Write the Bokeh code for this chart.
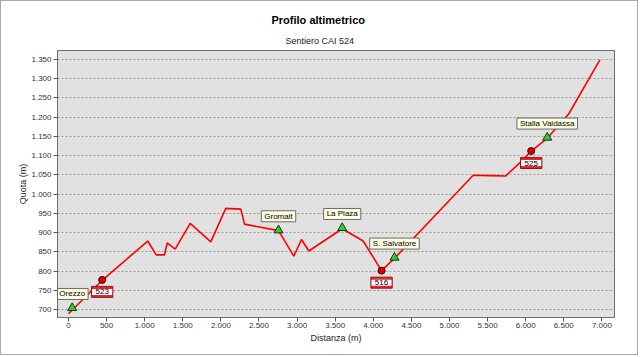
from bokeh.plotting import figure
from bokeh.models import Range1d, FixedTicker, CustomJSTickFormatter, Title
from bokeh.core.properties import value
from bokeh.embed import file_html
from bokeh.resources import INLINE

# ---- data ----
distance = [0, 442, 1040, 1151, 1260, 1295, 1400, 1597, 1867, 2064, 2261, 2310,
            2756, 2957, 3058, 3154, 3592, 3867, 4108, 4278, 5311, 5529, 5735,
            5932, 6072, 6282, 6566, 6973]
elevation = [689, 776, 878, 842, 842, 873, 857, 924, 876, 963, 961, 922,
             905, 839, 882, 852, 910, 878, 801, 833, 1049, 1048, 1047,
             1083, 1112, 1145, 1209, 1349]

place_names = ["Orezzo", "Gromalt", "La Plaza", "S. Salvatore", "Stalla Valdassa"]
place_dist = [49, 2756, 3592, 4278, 6282]
place_elev = [704, 906, 912, 835, 1147]

trail_names = ["523", "516", "525"]
trail_dist = [442, 4108, 6072]
trail_elev = [777, 801, 1112]

x_ticks = list(range(0, 7001, 500))
y_ticks = list(range(700, 1351, 50))

title_text = "Profilo altimetrico"
subtitle_text = "Sentiero CAI 524"
x_label = "Distanza (m)"
y_label = "Quota (m)"

FONT = "Liberation Sans"

p = figure(width=638, height=355, output_backend="svg", toolbar_location=None,
           x_range=Range1d(-144, 7165), y_range=Range1d(679.2, 1373.4),
           min_border_left=56, min_border_right=25, min_border_top=49,
           min_border_bottom=39)
p.styles = {"border": "1px solid #a9a9a9"}
p.background_fill_color = "#e1e1e1"
p.border_fill_color = "white"
p.outline_line_color = "#6f6f6f"
p.outline_line_width = 1

# titles: main title outermost, subtitle nearest the frame
p.title.text = title_text
p.title.align = "left"
p.title.offset = 214
p.title.standoff = 5
p.title.text_font = FONT
p.title.text_font_size = "11px"
p.title.text_font_style = "bold"
p.title.text_color = "#000000"
p.add_layout(Title(text=subtitle_text, align="left", offset=228, standoff=10,
                   text_font=FONT, text_font_size="9px",
                   text_font_style="normal", text_color="#222222"), "above")

p.xgrid.visible = False
p.ygrid.grid_line_color = "#9a9a9a"
p.ygrid.grid_line_dash = "2 2"
p.ygrid.grid_line_width = 1

p.xaxis.ticker = FixedTicker(ticks=x_ticks)
p.yaxis.ticker = FixedTicker(ticks=y_ticks)
code = "return tick.toFixed(0).replace(/\\B(?=(\\d{3})+(?!\\d))/g, '.');"
p.xaxis.formatter = CustomJSTickFormatter(code=code)
p.yaxis.formatter = CustomJSTickFormatter(code=code)
for ax in (p.xaxis, p.yaxis):
    ax.minor_tick_line_color = None
    ax.major_tick_in = 0
    ax.major_tick_out = 4
    ax.axis_line_color = "#6f6f6f"
    ax.major_tick_line_color = "#555555"
    ax.major_label_text_font = FONT
    ax.major_label_text_font_size = "8px"
    ax.major_label_text_color = "#333333"
    ax.axis_label_text_font = FONT
    ax.axis_label_text_font_size = "9px"
    ax.axis_label_text_font_style = "normal"
    ax.axis_label_text_color = "#222222"
p.xaxis.axis_label = x_label
p.yaxis.axis_label = y_label
p.xaxis.major_label_standoff = 1
p.yaxis.major_label_standoff = 2
p.xaxis.axis_label_standoff = 2
p.yaxis.axis_label_standoff = 0

# profile line
p.line(distance, elevation, line_color="#ff0000", line_width=1.6)

# trail junction markers
p.scatter(trail_dist, trail_elev, marker="circle", size=7,
          fill_color="#e00000", line_color="#3a0000", line_width=1)
# place markers
p.scatter(place_dist, place_elev, marker="triangle", size=9,
          fill_color="#33cc33", line_color="#0b3b0b", line_width=1)

# place labels
p.text(place_dist, place_elev, text=place_names, text_align="center",
       text_baseline="middle", y_offset=-14, text_font=value(FONT),
       text_font_size="8px", text_color="#000000",
       background_fill_color="#ffffe1", border_line_color="#6a6a6a",
       border_line_width=1, padding=dict(left=3, right=3, top=1, bottom=1))

# trail labels (red-white-red sign): red box, white band, text
p.text(trail_dist, trail_elev, text=trail_names, text_align="center",
       text_baseline="middle", y_offset=12, text_font=value(FONT),
       text_font_size="8px", text_color="#e4262b",
       background_fill_color="#e4262b", border_line_color="#8b1a1a",
       border_line_width=1, padding=dict(left=4, right=4, top=3, bottom=3))
p.text(trail_dist, trail_elev, text=trail_names, text_align="center",
       text_baseline="middle", y_offset=12, text_font=value(FONT),
       text_font_size="6px", text_color="#ffffff",
       background_fill_color="#ffffff",
       padding=dict(left=5, right=5, top=1, bottom=1))
p.text(trail_dist, trail_elev, text=trail_names, text_align="center",
       text_baseline="middle", y_offset=12, text_font=value(FONT),
       text_font_size="8px", text_color="#000000")

open("out.html", "w").write(file_html(p, INLINE))
